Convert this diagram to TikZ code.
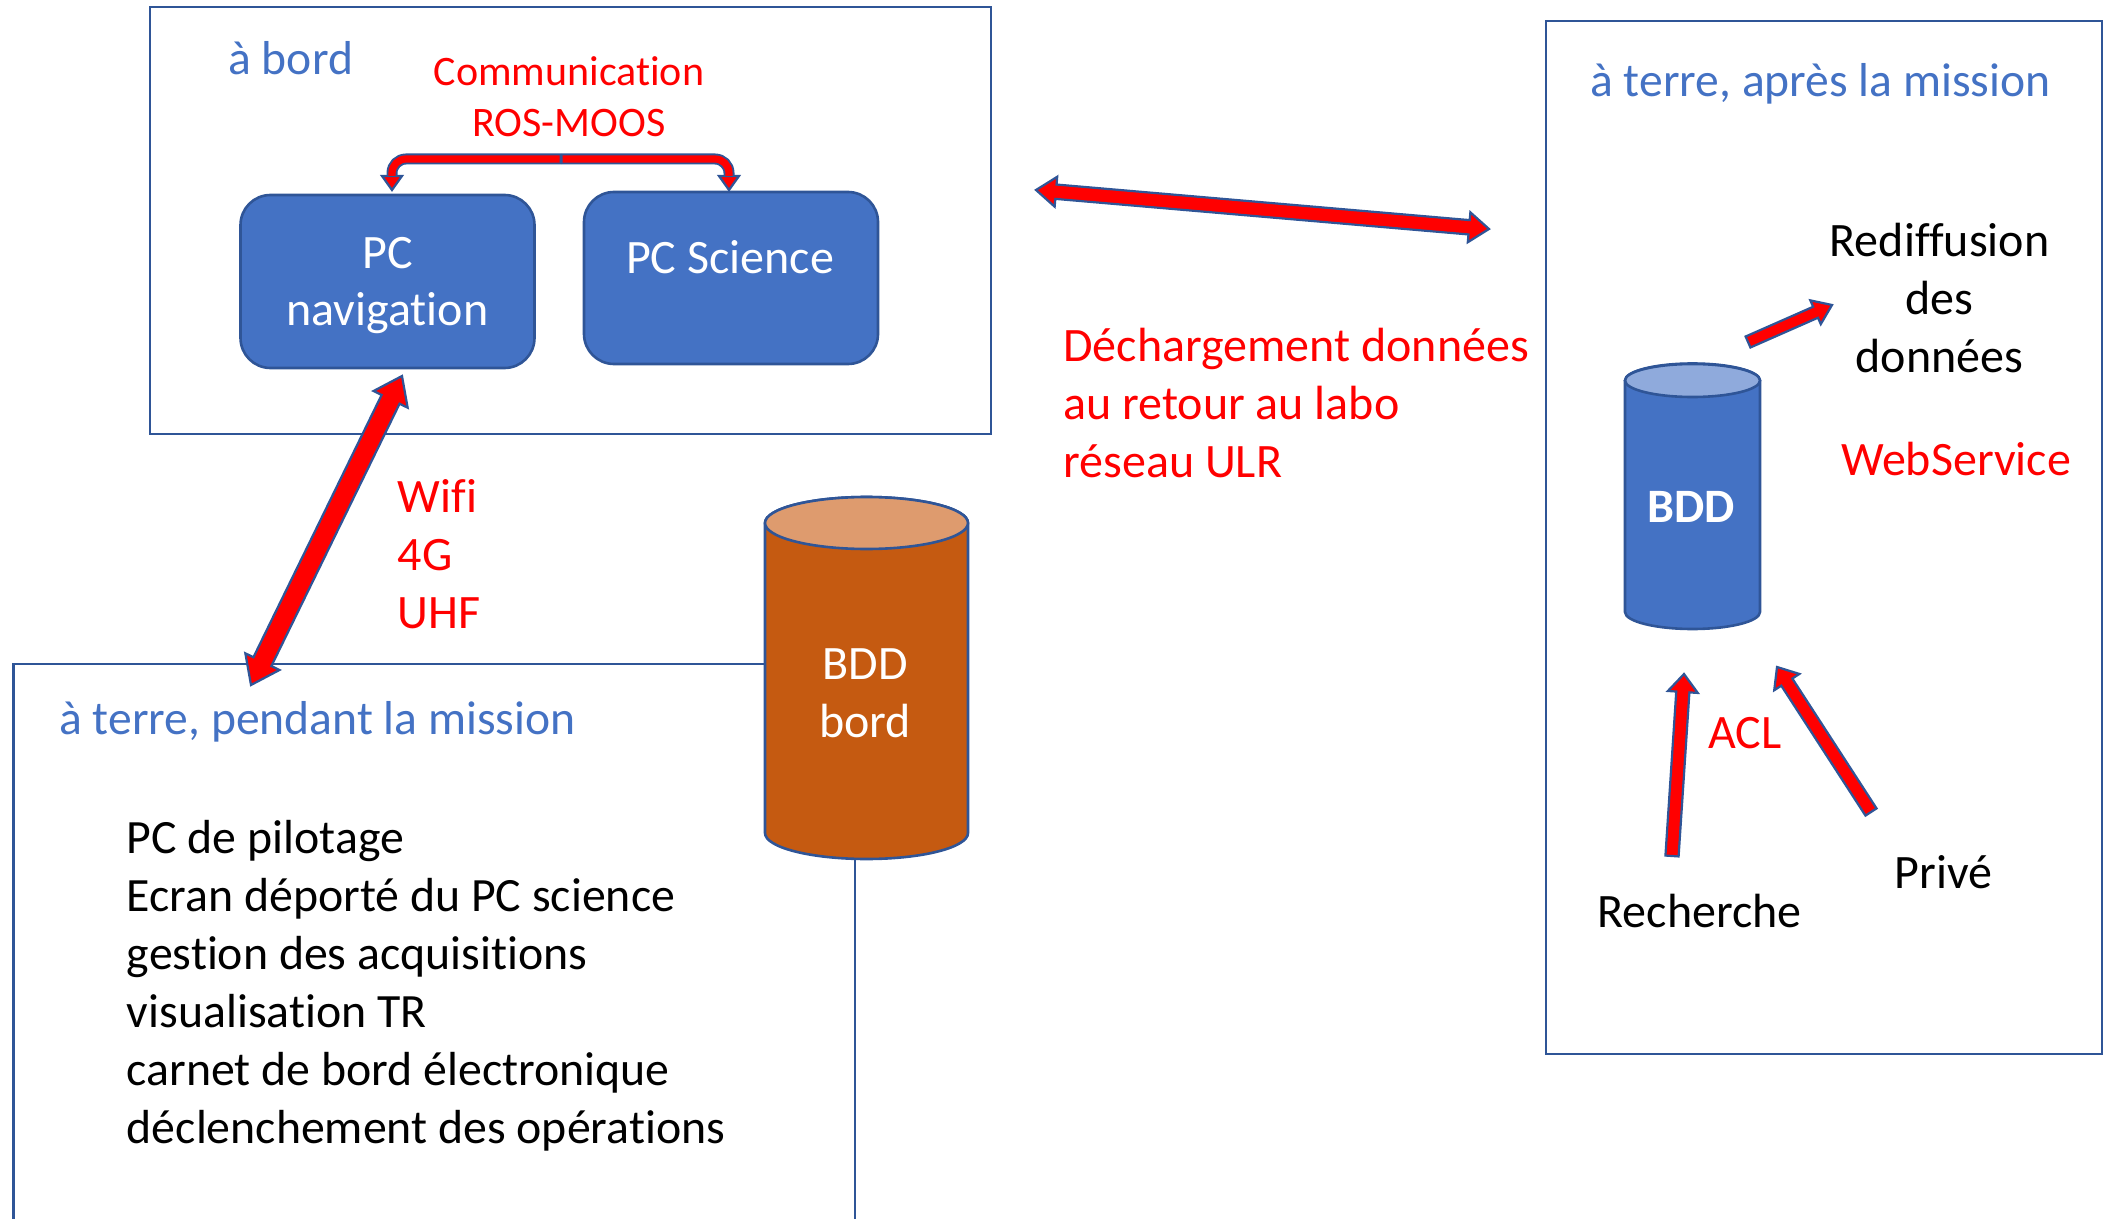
\documentclass[tikz,border=0pt]{standalone}
\usepackage{fontspec}
\setmainfont[Ligatures=NoCommon]{Carlito}
\usetikzlibrary{calc}
\definecolor{bluefill}{HTML}{4472C4}
\definecolor{blueline}{HTML}{2F5597}
\definecolor{bluelid}{HTML}{8FAADC}
\definecolor{orangefill}{HTML}{C55A11}
\definecolor{orangelid}{HTML}{DE9B6E}
\newcommand\fatone[5]{%
  \coordinate (hc) at ($(#2)!#5!(#1)$);
  \draw[fatarrow] ($(#1)!#3!90:(#2)$) -- ($(hc)!#3!90:(#2)$) -- ($(hc)!#4!90:(#2)$) -- (#2)
    -- ($(hc)!#4!-90:(#2)$) -- ($(hc)!#3!-90:(#2)$) -- ($(#1)!#3!-90:(#2)$) -- cycle;}
\newcommand\fattwo[5]{%
  \coordinate (hc) at ($(#2)!#5!(#1)$);
  \coordinate (hd) at ($(#1)!#5!(#2)$);
  \draw[fatarrow] (#1) -- ($(hd)!#4!-90:(#2)$) -- ($(hd)!#3!-90:(#2)$) -- ($(hc)!#3!90:(#1)$)
    -- ($(hc)!#4!90:(#1)$) -- (#2) -- ($(hc)!#4!-90:(#1)$) -- ($(hc)!#3!-90:(#1)$)
    -- ($(hd)!#3!90:(#2)$) -- ($(hd)!#4!90:(#2)$) -- cycle;}
\tikzset{
  frame/.style={draw=blueline,line width=1.4pt},
  pcbox/.style={draw=blueline,line width=1.3pt,fill=bluefill,rounded corners=15pt,text=white,
    align=center,inner sep=0pt,font=\fontsize{24}{28.5}\selectfont},
  fatarrow/.style={draw=blueline,fill=red,line width=1.1pt,line join=miter,miter limit=6},
  elbowout/.style={draw=blueline,line width=5.5pt,rounded corners=7pt},
  elbowin/.style={draw=red,line width=3.6pt,rounded corners=7pt},
  cylbody/.style={draw=blueline,line width=1.3pt},
  txt/.style={inner sep=0pt,align=left,font=\fontsize{24}{29}\selectfont},
  ctxt/.style={txt,align=center},
  redtxt/.style={txt,text=red},
  bluetxt/.style={txt,text=bluefill,font=\fontsize{23.8}{29}\selectfont},
}
\begin{document}
\begin{tikzpicture}[x=.5pt,y=-.5pt]
\useasboundingbox (0,0) rectangle (2113,1219);
% frames
\node[frame,minimum width=420.5pt,minimum height=213.5pt,inner sep=0pt] (bord) at (570.5,220.5) {};
\node[frame,minimum width=278pt,minimum height=516.5pt,inner sep=0pt] (apres) at (1824,537.5) {};
\coordinate (mA) at (13.5,1219);
\coordinate (mB) at (13.5,664);
\coordinate (mC) at (855,664);
\coordinate (mD) at (855,1219);
\draw[frame] (mA) -- (mB) -- (mC) -- (mD);
% PC boxes
\node[pcbox,minimum width=147pt,minimum height=86.5pt] (pcnav) at (387.5,281.5) {};
\node[ctxt,text=white,font=\fontsize{24}{28.5}\selectfont] (pcnavt) at (387.5,286) {PC\\navigation};
\node[pcbox,minimum width=147pt,minimum height=86pt] (pcsci) at (731,278) {};
\node[ctxt,text=white] (pcscit) at (730,257) {PC Science};
% elbow connector
\coordinate (mid) at (561,159);
\coordinate (midL) at (559.5,159);
\coordinate (midR) at (562.5,159);
\coordinate (endL) at (392,176);
\coordinate (endR) at (729,176);
\coordinate (tipL) at (392,190);
\coordinate (tipR) at (729,190);
\draw[elbowout] (mid) -| (endL);
\draw[elbowout] (mid) -| (endR);
\fatone{endL}{tipL}{2.6pt}{5pt}{7pt}
\fatone{endR}{tipR}{2.6pt}{5pt}{7pt}
\draw[elbowin] (midL) -| (endL);
\draw[elbowin] (midR) -| (endR);
% BDD bord
\coordinate (oc) at (866.5,523);
\draw[cylbody,fill=orangefill] (765,523) -- (765,833) arc[start angle=180,end angle=360,x radius=50.75pt,y radius=13pt] -- (968,523) arc[start angle=0,end angle=180,x radius=50.75pt,y radius=13pt] -- cycle;
\draw[cylbody,fill=orangelid] (oc) ellipse[x radius=50.75pt,y radius=13pt];
\node[ctxt,text=white] (bddbord) at (865,693) {BDD\\bord};
% BDD
\coordinate (bc) at (1692.5,380.5);
\draw[cylbody,fill=bluefill] (1625,380.5) -- (1625,612) arc[start angle=180,end angle=360,x radius=33.75pt,y radius=8.5pt] -- (1760,380.5) arc[start angle=0,end angle=180,x radius=33.75pt,y radius=8.5pt] -- cycle;
\draw[cylbody,fill=bluelid] (bc) ellipse[x radius=33.75pt,y radius=8.25pt];
\node[ctxt,text=white,font=\fontsize{24}{29}\bfseries] (bdd) at (1691,507) {BDD};
% arrows
\coordinate (wA) at (251,685);
\coordinate (wB) at (402,376);
\fattwo{wA}{wB}{5pt}{9.5pt}{13pt}
\coordinate (dA) at (1036,190);
\coordinate (dB) at (1489,229);
\fattwo{dA}{dB}{3.6pt}{7.5pt}{10pt}
\coordinate (rA) at (1748,342);
\coordinate (rB) at (1832,305);
\fatone{rA}{rB}{3pt}{6.5pt}{9pt}
\coordinate (sA) at (1672,856);
\coordinate (sB) at (1684,674);
\fatone{sA}{sB}{3.3pt}{7.5pt}{9pt}
\coordinate (pA) at (1871,812);
\coordinate (pB) at (1777,667);
\fatone{pA}{pB}{3.3pt}{7.5pt}{9pt}
% labels
\node[bluetxt,anchor=west] (t1) at (228,58) {à bord};
\node[redtxt,align=center,font=\fontsize{21}{25.5}\selectfont] (t2) at (569,97) {Communication\\ROS-MOOS};
\node[redtxt,anchor=west] (t3) at (397.5,554) {Wifi\\4G\\UHF};
\node[redtxt,anchor=west] (t4) at (1063,403.5) {Déchargement données\\au retour au labo\\réseau ULR};
\node[bluetxt,anchor=west] (t5) at (59,722) {à terre, pendant la mission};
\node[bluetxt,anchor=west] (t6) at (1590,84) {à terre, après la mission};
\node[txt,anchor=west,font=\fontsize{23.9}{29}\selectfont] (t7) at (126.5,986) {PC de pilotage\\Ecran déporté du PC science\\gestion des acquisitions\\visualisation TR\\carnet de bord électronique\\déclenchement des opérations};
\node[ctxt] (t8) at (1939.5,298.5) {Rediffusion\\des\\données};
\node[redtxt] (t9) at (1956,459) {WebService};
\node[redtxt] (t10) at (1745,733) {ACL};
\node[txt] (t11) at (1699.5,911) {Recherche};
\node[txt] (t12) at (1943.5,872) {Privé};
\end{tikzpicture}
\end{document}
